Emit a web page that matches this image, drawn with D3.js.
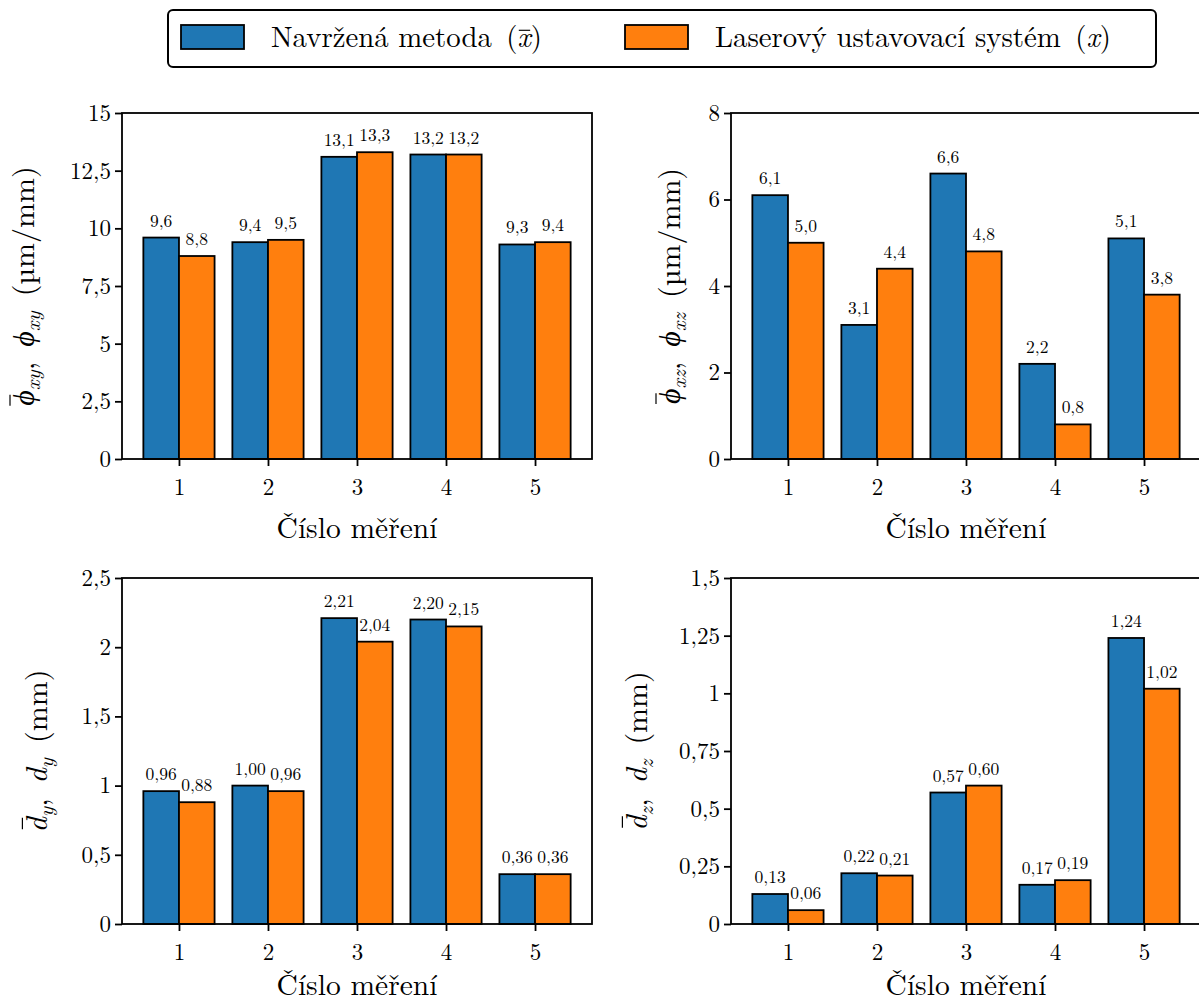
<!DOCTYPE html>
<html><head><meta charset="utf-8">
<script src="https://cdn.jsdelivr.net/npm/d3@7"></script>
</head><body style="margin:0;background:#fff">
<svg id="c" width="1199" height="1005"></svg>
<script>
const categories = [1, 2, 3, 4, 5];
const seriesNames = ["Navržená metoda", "Laserový ustavovací systém"];
const phiXyMethod = [9.6, 9.4, 13.1, 13.2, 9.3];
const phiXyLaser  = [8.8, 9.5, 13.3, 13.2, 9.4];
const phiXzMethod = [6.1, 3.1, 6.6, 2.2, 5.1];
const phiXzLaser  = [5.0, 4.4, 4.8, 0.8, 3.8];
const dyMethod = [0.96, 1.00, 2.21, 2.20, 0.36];
const dyLaser  = [0.88, 0.96, 2.04, 2.15, 0.36];
const dzMethod = [0.13, 0.22, 0.57, 0.17, 1.24];
const dzLaser  = [0.06, 0.21, 0.60, 0.19, 1.02];
const ticksPhiXy = [0, 2.5, 5, 7.5, 10, 12.5, 15];
const ticksPhiXz = [0, 2, 4, 6, 8];
const ticksDy = [0, 0.5, 1, 1.5, 2, 2.5];
const ticksDz = [0, 0.25, 0.5, 0.75, 1, 1.25, 1.5];
const xLabel = "Číslo měření";

const FONT = "Latin Modern Roman, CMU Serif, Liberation Serif, serif";
const GREEK = "Liberation Serif, serif";
const colors = ["#1f77b4", "#ff7f0e"];
const svg = d3.select("#c");
const fmtTick = v => String(v).replace(".", ",");
const NB = "\u00a0";

function richText(parent, x, y, parts, fs, anchor) {
  const t = parent.append("text").attr("x", x).attr("y", y).attr("font-size", fs)
    .attr("text-anchor", anchor).attr("font-family", FONT).attr("fill", "#000");
  let idx = 0, shifted = 0;
  const bars = [];
  parts.forEach(p => {
    const s = t.append("tspan").text(p.t);
    const want = p.sub ? 0.2 * fs : 0;
    if (want - shifted) s.attr("dy", want - shifted);
    shifted = want;
    if (p.sub) s.attr("font-size", fs * 0.7);
    if (p.it) s.attr("font-style", "italic");
    if (p.fam) s.attr("font-family", p.fam);
    if (p.bar) bars.push({idx, p});
    idx += p.t.length;
  });
  bars.forEach(b => {
    const e = t.node().getExtentOfChar(b.idx);
    parent.append("line")
      .attr("x1", e.x + e.width * b.p.bar[0]).attr("x2", e.x + e.width * b.p.bar[1])
      .attr("y1", y - fs * b.p.bar[2]).attr("y2", y - fs * b.p.bar[2])
      .attr("stroke", "#000").attr("stroke-width", fs * 0.04);
  });
  return t;
}

const panels = [
  {m: phiXyMethod, l: phiXyLaser, ticks: ticksPhiXy, dec: 1, box: [122, 592, 113, 459], sym: "ϕ", sub: "xy", unit: "(µm/mm)", lx: 34, xl: 79},
  {m: phiXzMethod, l: phiXzLaser, ticks: ticksPhiXz, dec: 1, box: [731, 1201, 113, 459], sym: "ϕ", sub: "xz", unit: "(µm/mm)", lx: 680, xl: 79},
  {m: dyMethod, l: dyLaser, ticks: ticksDy, dec: 2, box: [122, 592, 578, 924], sym: "d", sub: "y", unit: "(mm)", lx: 47, xl: 71},
  {m: dzMethod, l: dzLaser, ticks: ticksDz, dec: 2, box: [731, 1201, 578, 924], sym: "d", sub: "z", unit: "(mm)", lx: 647, xl: 71}
];

panels.forEach(p => {
  const [x0, x1, y0, y1] = p.box;
  const x = d3.scaleLinear().domain([0.36, 5.64]).range([x0, x1]);
  const y = d3.scaleLinear().domain([0, d3.max(p.ticks)]).range([y1, y0]);
  const w = x(1.4) - x(1);
  const g = svg.append("g");
  [p.m, p.l].forEach((vals, si) => {
    g.selectAll(null).data(vals).enter().append("rect")
      .attr("x", (d, i) => x(categories[i]) - w + si * w)
      .attr("y", d => y(d)).attr("width", w).attr("height", d => y(0) - y(d))
      .attr("fill", colors[si]).attr("stroke", "#000").attr("stroke-width", 1.8);
  });
  [p.m, p.l].forEach((vals, si) => {
    g.selectAll(null).data(vals).enter().append("text")
      .attr("x", (d, i) => x(categories[i]) - w / 2 + si * w)
      .attr("y", d => y(d) - 11).attr("text-anchor", "middle").attr("font-size", 17.5)
      .attr("font-family", FONT)
      .text(d => d.toFixed(p.dec).replace(".", ","));
  });
  const ax = g.append("g").attr("transform", `translate(0,${y1})`)
    .call(d3.axisBottom(x).tickValues(categories).tickSize(7).tickFormat(d => d));
  ax.selectAll("text").attr("dy", null).attr("y", 36);
  const ay = g.append("g").attr("transform", `translate(${x0},0)`)
    .call(d3.axisLeft(y).tickValues(p.ticks).tickSize(7).tickPadding(4).tickFormat(fmtTick));
  [ax, ay].forEach(a => {
    a.attr("font-family", FONT).attr("font-size", 23);
    a.select(".domain").remove();
    a.selectAll("line").attr("stroke-width", 1.8);
    a.selectAll("text").attr("font-family", FONT).attr("font-size", 23);
  });
  g.append("rect").attr("x", x0).attr("y", y0).attr("width", x1 - x0).attr("height", y1 - y0)
    .attr("fill", "none").attr("stroke", "#000").attr("stroke-width", 1.8);
  g.append("text").attr("x", (x0 + x1) / 2).attr("y", y1 + p.xl).attr("text-anchor", "middle")
    .attr("font-family", FONT).attr("font-size", 29.5).text(xLabel);
  const lg = g.append("g").attr("transform", `translate(${p.lx},${(y0 + y1) / 2}) rotate(-90)`);
  const isPhi = p.sym === "ϕ";
  richText(lg, 0, 0, [
    {t: p.sym, it: true, fam: isPhi ? GREEK : null, bar: isPhi ? [0.0, 0.7, 0.8] : [0.2, 0.95, 0.82]},
    {t: p.sub, it: true, sub: true},
    {t: "," + NB},
    {t: p.sym, it: true, fam: isPhi ? GREEK : null},
    {t: p.sub, it: true, sub: true},
    {t: NB + p.unit}
  ], 30, "middle");
});

// legend
const leg = svg.append("g");
leg.append("rect").attr("x", 168).attr("y", 10).attr("width", 988).attr("height", 57).attr("rx", 5)
  .attr("fill", "#fff").attr("stroke", "#000").attr("stroke-width", 2);
const legendItems = [{x: 181, name: seriesNames[0], bar: true}, {x: 625, name: seriesNames[1], bar: false}];
legendItems.forEach((it, i) => {
  leg.append("rect").attr("x", it.x).attr("y", 25).attr("width", 63).attr("height", 24)
    .attr("fill", colors[i]).attr("stroke", "#000").attr("stroke-width", 1.8);
  richText(leg, it.x + 90, 47, [
    {t: it.name + NB + "("},
    {t: "x", it: true, bar: it.bar ? [0.1, 0.95, 0.58] : null},
    {t: ")"}
  ], 28.8, "start");
});
</script>
</body></html>
